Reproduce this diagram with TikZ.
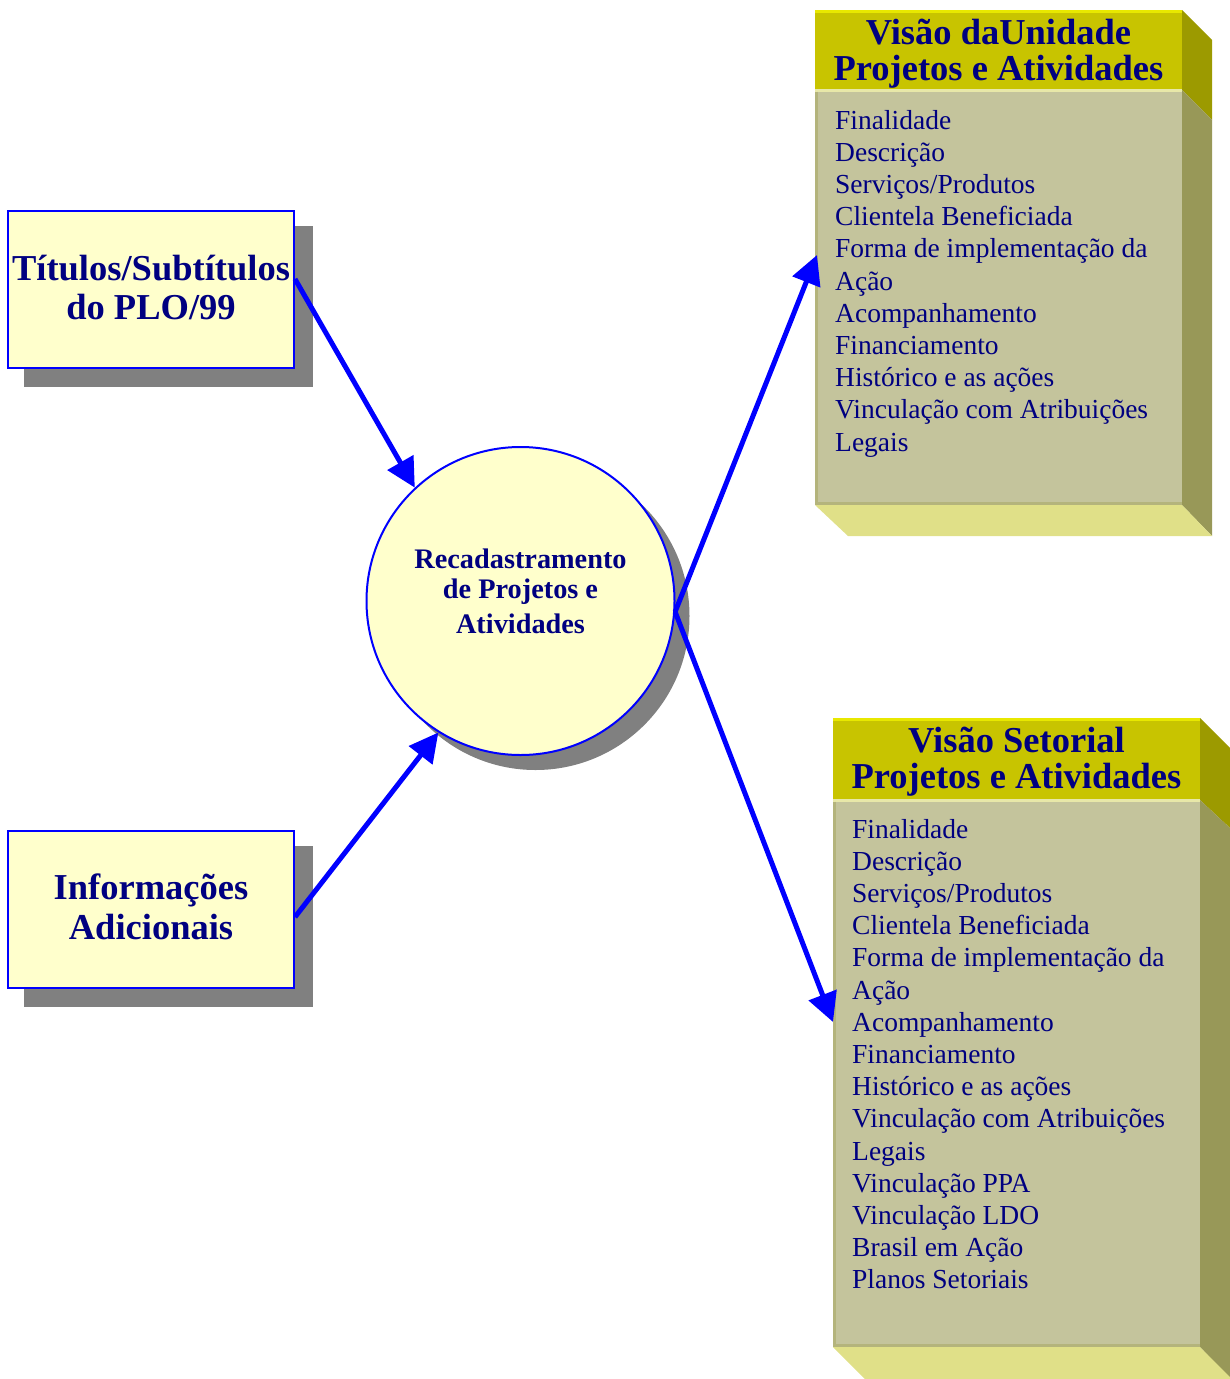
\documentclass[tikz,border=0pt]{standalone}
\usepackage{fontspec}
\setmainfont{Liberation Serif}
\usetikzlibrary{arrows.meta,calc}
\definecolor{navy}{HTML}{000080}
\definecolor{paleyel}{HTML}{FFFFCC}
\definecolor{shadowgray}{HTML}{808080}
\definecolor{hdr}{HTML}{C8C400}
\definecolor{hdrhi}{HTML}{E8E800}
\definecolor{bodyc}{HTML}{C4C49C}
\definecolor{divc}{HTML}{E8E8A8}
\definecolor{sidehdr}{HTML}{9C9A00}
\definecolor{sidebody}{HTML}{989858}
\definecolor{bottomc}{HTML}{E0E088}
\definecolor{edgec}{HTML}{B4B47C}
\begin{document}
\begin{tikzpicture}[x=1pt,y=-1pt,
  leftbox/.style={draw=blue, line width=2pt, fill=paleyel, minimum width=286pt, minimum height=157pt, inner sep=0pt},
  boldlbl/.style={anchor=base, inner sep=0pt, text=navy, font=\fontsize{36.5}{38}\selectfont\bfseries},
  circlbl/.style={anchor=base, inner sep=0pt, text=navy, font=\fontsize{28.3}{30}\selectfont\bfseries},
  item/.style={anchor=base west, inner sep=0pt, text=navy, font=\fontsize{27.5}{30}\selectfont},
  front/.style={fill=bodyc, draw=none, minimum width=367pt, inner sep=0pt, outer sep=0pt},
  arr/.style={draw=blue, line width=5pt, -{Triangle[length=29pt,width=29pt]}}]
\useasboundingbox (0,0) rectangle (1230,1379);
\clip (0,0) rectangle (1230,1379);

% ---- left boxes ----
\fill[shadowgray] (24,226) rectangle (313,387);
\node[leftbox] (t1) at (151,289.5) {};
\node[boldlbl] (t1a) at (151,280) {Títulos/Subtítulos};
\node[boldlbl] (t1b) at (151,319) {do PLO/99};

\fill[shadowgray] (24,846) rectangle (313,1007);
\node[leftbox] (t2) at (151,909.5) {};
\node[boldlbl] (t2a) at (151,899) {Informações};
\node[boldlbl] (t2b) at (151,939) {Adicionais};

% ---- circle ----
\fill[shadowgray] (535.5,616) circle (154pt);
\node[circle, draw=blue, line width=2pt, fill=paleyel, minimum size=308pt, inner sep=0pt] (c) at (520.5,601) {};
\node[circlbl] (ca) at (520.5,568) {Recadastramento};
\node[circlbl] (cb) at (520.5,598) {de Projetos e};
\node[circlbl] (cc) at (520.5,633) {Atividades};

% ---- top right box ----
\fill[sidehdr] (1182,10) -- (1212,40) -- (1212,120) -- (1182,90) -- cycle;
\fill[sidebody] (1182,90) -- (1212,120) -- (1212,536) -- (1182,505) -- cycle;
\fill[bottomc] (815,505) -- (1182,505) -- (1212,536) -- (848,536) -- cycle;
\node[front, minimum height=495pt] (v1) at (998.5,257.5) {};
\fill[hdr] (815,10) rectangle (1182,90);
\draw[hdrhi, line width=3pt] (815,11.5) -- (1182,11.5);
\draw[divc, line width=3pt] (815,90) -- (1182,90);
\draw[edgec, line width=3pt] (816.5,91.5) -- (816.5,503.5) -- (1182,503.5);
\node[boldlbl] (v1a) at (998.5,44) {Visão daUnidade};
\node[boldlbl] (v1b) at (998.5,80) {Projetos e Atividades};
\foreach \t [count=\i from 0] in {Finalidade, Descrição, Serviços/Produtos, Clientela Beneficiada, Forma de implementação da, Ação, Acompanhamento, Financiamento, Histórico e as ações, Vinculação com Atribuições, Legais}
  \node[item] (ua\i) at (835,{129+32.2*\i}) {\t};

% ---- bottom right box ----
\fill[sidehdr] (1200,718) -- (1230,748) -- (1230,828) -- (1200,800) -- cycle;
\fill[sidebody] (1200,800) -- (1230,828) -- (1230,1379) -- (1200,1347) -- cycle;
\fill[bottomc] (833,1347) -- (1200,1347) -- (1232,1379) -- (865,1379) -- cycle;
\node[front, minimum height=629pt] (v2) at (1016.5,1032.5) {};
\fill[hdr] (833,718) rectangle (1200,800);
\draw[hdrhi, line width=3pt] (833,719.5) -- (1200,719.5);
\draw[divc, line width=3pt] (833,800) -- (1200,800);
\draw[edgec, line width=3pt] (834.5,801.5) -- (834.5,1345.5) -- (1200,1345.5);
\node[boldlbl] (v2a) at (1016.5,752) {Visão Setorial};
\node[boldlbl] (v2b) at (1016.5,788) {Projetos e Atividades};
\foreach \t [count=\i from 0] in {Finalidade, Descrição, Serviços/Produtos, Clientela Beneficiada, Forma de implementação da, Ação, Acompanhamento, Financiamento, Histórico e as ações, Vinculação com Atribuições, Legais, Vinculação PPA, Vinculação LDO, Brasil em Ação, Planos Setoriais}
  \node[item] (ub\i) at (852,{838+32.2*\i}) {\t};

% ---- connectors ----
\draw[arr] ([yshift=10.5pt]t1.east) -- (c.133);
\draw[arr] ([yshift=-7.5pt]t2.east) -- (c.238);
\draw[arr] (c.-4) -- ([xshift=2pt,yshift=2.5pt]v1.west);
\draw[arr] (c.-4) -- ([yshift=10.5pt]v2.west);
\end{tikzpicture}
\end{document}
